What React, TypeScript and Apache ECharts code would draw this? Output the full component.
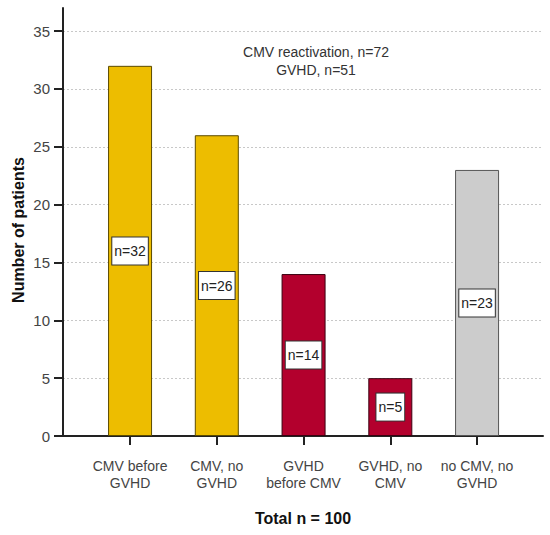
import React, { useEffect, useRef } from "react";
import * as echarts from "echarts";

const categories = [
  "CMV before\nGVHD",
  "CMV, no\nGVHD",
  "GVHD\nbefore CMV",
  "GVHD, no\nCMV",
  "no CMV, no\nGVHD",
];
const patients = [32, 26, 14, 5, 23];
const barColors = ["#EDBD00", "#EDBD00", "#B3002D", "#B3002D", "#CCCCCC"];
const barBorders = ["#5a4a00", "#5a4a00", "#3a0010", "#3a0010", "#555555"];
const xPositions = [0, 1, 2, 3, 4];
const yTicks = [0, 5, 10, 15, 20, 25, 30, 35];
const annotationLines = ["CMV reactivation, n=72", "GVHD, n=51"];
const xTitle = "Total n = 100";
const yTitle = "Number of patients";

const NARROW = '"Liberation Sans Narrow", "Arial Narrow", "Liberation Sans", Arial, sans-serif';
const SANS = '"Liberation Sans", Arial, sans-serif';

export default function App() {
  const ref = useRef<HTMLDivElement>(null);
  useEffect(() => {
    document.body.style.margin = "0";
    const chart = echarts.init(ref.current!, null, { renderer: "svg" });
    chart.setOption({
      animation: false,
      grid: { left: 63, right: 7, top: 8, bottom: 99 },
      xAxis: {
        type: "value",
        min: -0.773,
        max: 4.76,
        axisLine: { show: true, lineStyle: { color: "#222", width: 2 } },
        axisTick: { show: true, customValues: xPositions, length: 9, lineStyle: { color: "#222", width: 2 } },
        axisLabel: {
          customValues: xPositions,
          formatter: (v: number) => categories[Math.round(v)] ?? "",
          fontFamily: NARROW,
          fontSize: 14,
          lineHeight: 17,
          color: "#444",
          margin: 21,
        },
        splitLine: { show: false },
        name: xTitle,
        nameLocation: "middle",
        nameGap: 74,
        nameTextStyle: { fontFamily: SANS, fontWeight: "bold", fontSize: 16, color: "#111" },
      },
      yAxis: {
        type: "value",
        min: 0,
        max: 37,
        interval: 5,
        axisLine: { show: true, onZero: false, lineStyle: { color: "#222", width: 2 } },
        axisTick: { show: true, customValues: yTicks, length: 9, lineStyle: { color: "#222", width: 2 } },
        axisLabel: {
          customValues: yTicks,
          fontFamily: NARROW,
          fontSize: 15,
          color: "#444",
          margin: 13,
        },
        splitLine: { show: true, lineStyle: { color: "#c8c8c8", type: [2, 2], width: 1 } },
      },
      graphic: [
        {
          type: "text",
          x: 316,
          y: 61,
          style: {
            text: annotationLines.join("\n"),
            textAlign: "center",
            textVerticalAlign: "middle",
            font: `14px ${NARROW}`,
            lineHeight: 18,
            fill: "#333",
          },
        },
        {
          type: "text",
          x: 18,
          y: 230,
          rotation: Math.PI / 2,
          style: {
            text: yTitle,
            textAlign: "center",
            textVerticalAlign: "middle",
            font: `bold 16px ${SANS}`,
            fill: "#111",
          },
        },
      ],
      series: [
        {
          type: "bar",
          barWidth: 44,
          data: xPositions.map((x, i) => ({
            value: [x, patients[i]],
            itemStyle: { color: barColors[i], borderColor: barBorders[i], borderWidth: 1 },
          })),
          label: {
            show: true,
            position: "inside",
            formatter: (p: any) => "n=" + p.value[1],
            fontFamily: NARROW,
            fontSize: 14,
            lineHeight: 15,
            color: "#222",
            backgroundColor: "#fff",
            borderColor: "#333",
            borderWidth: 1,
            padding: [6, 2],
          },
        },
      ],
    });
    return () => chart.dispose();
  }, []);
  return <div ref={ref} style={{ width: 550, height: 535 }} />;
}
